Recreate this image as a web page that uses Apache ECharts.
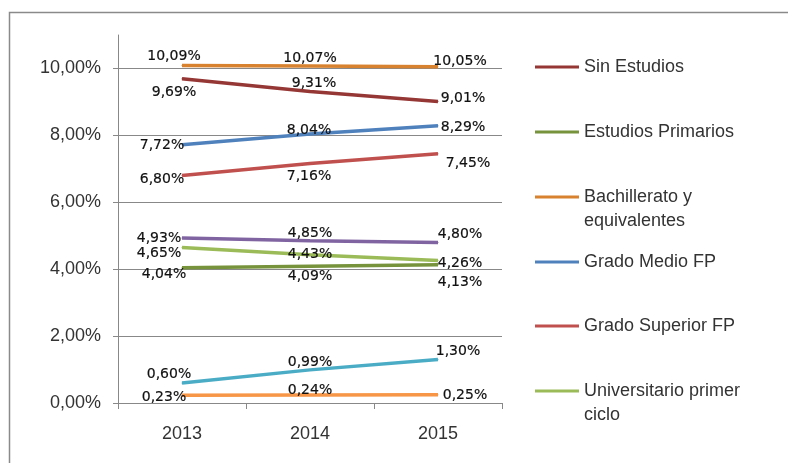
<!DOCTYPE html>
<html>
<head>
<meta charset="utf-8">
<script src="https://cdn.jsdelivr.net/npm/echarts@6/dist/echarts.min.js"></script>
<style>
  html, body { margin: 0; padding: 0; background: #fff; }
  #chart { width: 788px; height: 463px; }
</style>
</head>
<body>
<div id="chart"></div>
<script>
// Categories (years)
const years = ['2013', '2014', '2015'];

// Series names
const names = [
  'Sin Estudios',
  'Estudios Primarios',
  'Bachillerato y equivalentes',
  'Grado Medio FP',
  'Grado Superior FP',
  'Universitario primer ciclo',
  'Universitario segundo ciclo',
  'Doctorado',
  'Otros'
];

// Values (%)
const sinEstudios = [9.69, 9.31, 9.01];
const estudiosPrimarios = [4.04, 4.09, 4.13];
const bachillerato = [10.09, 10.07, 10.05];
const gradoMedio = [7.72, 8.04, 8.29];
const gradoSuperior = [6.80, 7.16, 7.45];
const univPrimer = [4.65, 4.43, 4.26];
const univSegundo = [4.93, 4.85, 4.80];
const doctorado = [0.60, 0.99, 1.30];
const otros = [0.23, 0.24, 0.25];

// Y-axis ticks
const yMin = 0, yMax = 11, yStep = 2;

const seriesValues = [sinEstudios, estudiosPrimarios, bachillerato, gradoMedio,
  gradoSuperior, univPrimer, univSegundo, doctorado, otros];

const colors = ['#953735', '#77933C', '#D8822F', '#4F81BD', '#C0504D',
  '#9BBB59', '#8064A2', '#4BACC6', '#F79646'];

// Data-label offsets (px) from each point
const labelOffsets = [
  [[-8, 14], [4, -8], [25, -3]],
  [[-18, 7], [0, 10], [22, 18]],
  [[-8, -9], [0, -8], [22, -5]],
  [[-20, 1], [-1, -4], [25, 2]],
  [[-20, 4], [-1, 13], [30, 10]],
  [[-23, 6], [0, 0], [22, 3]],
  [[-23, 0], [0, -7], [22, -8]],
  [[-13, -9], [0, -8], [20, -8]],
  [[-18, 2], [0, -5], [27, 1]]
];

const fmtPct = v => v.toFixed(2).replace('.', ',') + '%';

const series = seriesValues.map((vals, s) => ({
  name: names[s],
  type: 'line',
  color: colors[s],
  symbol: 'circle',
  symbolSize: 1,
  showSymbol: true,
  lineStyle: { width: 3.5, color: colors[s] },
  z: 2,
  label: {
    show: true,
    position: 'inside',
    fontFamily: 'DejaVu Sans',
    fontSize: 14,
    color: '#111',
    textBorderColor: '#111',
    textBorderWidth: 0.2,
    formatter: p => fmtPct(p.value)
  },
  data: vals.map((v, i) => ({ value: v, label: { offset: labelOffsets[s][i] } }))
}));

// Legend entries: [series index, label lines, vertical centre of first line]
const legendEntries = [
  [0, ['Sin Estudios'], 67],
  [1, ['Estudios Primarios'], 132],
  [2, ['Bachillerato y', 'equivalentes'], 197],
  [3, ['Grado Medio FP'], 262],
  [4, ['Grado Superior FP'], 326],
  [5, ['Universitario primer', 'ciclo'], 391]
];
const LH = 24;
const legends = legendEntries.map(([idx, lines, cy]) => {
  // two-line entries get a blank leading line so the marker sits on the first line
  const text = lines.length === 1 ? lines[0] : ' \n' + lines.join('\n');
  const half = lines.length === 1 ? LH / 2 : LH * 1.5;
  return {
    left: 535,
    top: cy - half,
    orient: 'vertical',
    padding: 0,
    icon: 'rect',
    itemWidth: 44,
    itemHeight: 3,
    selectedMode: false,
    data: [names[idx]],
    formatter: () => text,
    textStyle: {
      fontFamily: 'Liberation Sans',
      fontSize: 18,
      color: '#333',
      lineHeight: LH
    }
  };
});

const chart = echarts.init(document.getElementById('chart'), null, { renderer: 'canvas' });
chart.setOption({
  animation: false,
  backgroundColor: '#fff',
  grid: { left: 118, right: 286, top: 35, bottom: 60, containLabel: false },
  legend: legends,
  graphic: [{
    type: 'rect',
    shape: { x: 9.5, y: 12.5, width: 900, height: 600 },
    style: { fill: 'none', stroke: '#8a8a8a', lineWidth: 1.5 },
    silent: true,
    z: -1
  }],
  xAxis: {
    type: 'category',
    data: years,
    boundaryGap: true,
    axisLine: { lineStyle: { color: '#888', width: 1 } },
    axisTick: { show: true, length: 6, lineStyle: { color: '#888' } },
    axisLabel: { fontFamily: 'Liberation Sans', fontSize: 18, color: '#333', margin: 22 },
    splitLine: { show: false }
  },
  yAxis: {
    type: 'value',
    min: yMin,
    max: yMax,
    interval: yStep,
    axisLine: { show: true, lineStyle: { color: '#888', width: 1 } },
    axisTick: { show: true, length: 5, lineStyle: { color: '#888' } },
    axisLabel: {
      fontFamily: 'Liberation Sans', fontSize: 18, color: '#333', margin: 17,
      showMaxLabel: false,
      formatter: v => fmtPct(v)
    },
    splitLine: { show: true, showMaxLine: false, lineStyle: { color: '#888', width: 1 } }
  },
  series: series
});
</script>
</body>
</html>
